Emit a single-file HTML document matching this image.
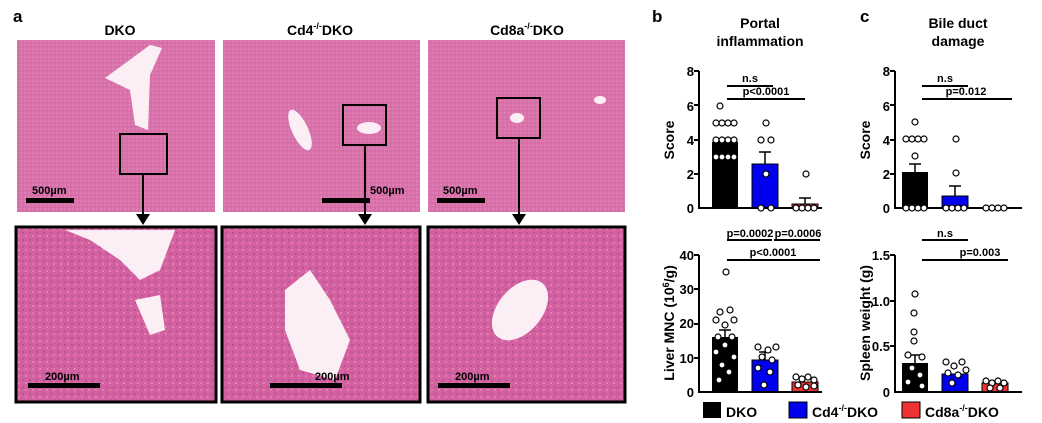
<!DOCTYPE html><html><head><style>body{margin:0;background:#fff}svg{display:block;font-family:"Liberation Sans",sans-serif;font-weight:bold}</style></head><body>
<svg width="1042" height="423" viewBox="0 0 1042 423">
<defs>
<pattern id="t1" width="4" height="4" patternUnits="userSpaceOnUse"><rect width="4" height="4" fill="#d972aa"/><circle cx="1" cy="1" r="0.5" fill="#eab5d2"/><circle cx="3" cy="3" r="0.5" fill="#c55a98"/></pattern>
<pattern id="t2" width="7" height="7" patternUnits="userSpaceOnUse"><rect width="7" height="7" fill="#d4609f"/><circle cx="2" cy="2" r="1" fill="#a2549a"/><circle cx="5" cy="5" r="0.8" fill="#e9a8cc"/></pattern>
</defs>
<text x="13" y="22" font-size="17">a</text>
<text x="120" y="35" font-size="14" text-anchor="middle">DKO</text>
<text x="320" y="35" font-size="14" text-anchor="middle">Cd4<tspan font-size="9" dy="-6">-/-</tspan><tspan dy="6">DKO</tspan></text>
<text x="527" y="35" font-size="14" text-anchor="middle">Cd8a<tspan font-size="9" dy="-6">-/-</tspan><tspan dy="6">DKO</tspan></text>
<rect x="17" y="40" width="198" height="172" fill="url(#t1)"/>
<rect x="223" y="40" width="197" height="172" fill="url(#t1)"/>
<rect x="428" y="40" width="197" height="172" fill="url(#t1)"/>
<path d="M105 78 L150 45 L162 48 L150 75 L148 130 L135 125 L130 90 Z" fill="#fbeef5"/>
<ellipse cx="300" cy="130" rx="8" ry="22" transform="rotate(-25 300 130)" fill="#fbeef5"/>
<ellipse cx="369" cy="128" rx="12" ry="6" fill="#fbeef5"/>
<ellipse cx="517" cy="118" rx="7" ry="5" fill="#fbeef5"/>
<ellipse cx="600" cy="100" rx="6" ry="4" fill="#fbeef5"/>
<g fill="none" stroke="#000" stroke-width="2">
<rect x="120" y="134" width="47" height="40"/><rect x="343" y="105" width="43" height="40"/><rect x="497" y="98" width="43" height="40"/>
</g>
<g stroke="#000" stroke-width="2"><line x1="143" y1="175" x2="143" y2="215"/><line x1="365" y1="146" x2="365" y2="215"/><line x1="519" y1="139" x2="519" y2="215"/></g>
<g fill="#000"><path d="M136 214h14l-7 11z"/><path d="M358 214h14l-7 11z"/><path d="M512 214h14l-7 11z"/></g>
<rect x="26" y="198" width="48" height="5" fill="#000"/><text x="32" y="194" font-size="11">500µm</text>
<rect x="322" y="198" width="48" height="5" fill="#000"/><text x="370" y="194" font-size="11">500µm</text>
<rect x="437" y="198" width="48" height="5" fill="#000"/><text x="443" y="194" font-size="11">500µm</text>
<rect x="16" y="227" width="200" height="175" fill="url(#t2)" stroke="#000" stroke-width="3"/>
<rect x="222" y="227" width="198" height="175" fill="url(#t2)" stroke="#000" stroke-width="3"/>
<rect x="428" y="227" width="197" height="175" fill="url(#t2)" stroke="#000" stroke-width="3"/>
<path d="M65 230 L175 230 L160 270 L140 280 L120 260 L90 240 Z" fill="#fbeef5"/>
<path d="M135 300 L150 335 L165 330 L160 295 Z" fill="#fbeef5"/>
<path d="M285 290 L310 270 L330 300 L350 340 L335 380 L300 370 L285 330 Z" fill="#fbeef5"/>
<ellipse cx="520" cy="310" rx="22" ry="35" transform="rotate(40 520 310)" fill="#fbeef5"/>
<rect x="28" y="383" width="72" height="5" fill="#000"/><text x="45" y="380" font-size="11">200µm</text>
<rect x="270" y="383" width="72" height="5" fill="#000"/><text x="315" y="380" font-size="11">200µm</text>
<rect x="438" y="383" width="72" height="5" fill="#000"/><text x="455" y="380" font-size="11">200µm</text>

<text x="652" y="22" font-size="17">b</text>
<text x="760" y="28" font-size="14" text-anchor="middle">Portal</text><text x="760" y="46" font-size="14" text-anchor="middle">inflammation</text>
<text x="860" y="22" font-size="17">c</text>
<text x="958" y="28" font-size="14" text-anchor="middle">Bile duct</text><text x="958" y="46" font-size="14" text-anchor="middle">damage</text>
<g font-size="13" text-anchor="end">
<text x="694" y="76">8</text><text x="694" y="111">6</text><text x="694" y="145">4</text><text x="694" y="179">2</text><text x="694" y="213">0</text>
<text x="890" y="76">8</text><text x="890" y="111">6</text><text x="890" y="145">4</text><text x="890" y="179">2</text><text x="890" y="213">0</text>
<text x="694" y="260">40</text><text x="694" y="294">30</text><text x="694" y="328">20</text><text x="694" y="363">10</text><text x="694" y="397">0</text>
<text x="890" y="260">1.5</text><text x="890" y="306">1.0</text><text x="890" y="351">0.5</text><text x="890" y="397">0</text>
</g>
<text transform="translate(674 140) rotate(-90)" font-size="14" text-anchor="middle">Score</text>
<text transform="translate(870 140) rotate(-90)" font-size="14" text-anchor="middle">Score</text>
<text transform="translate(674 323) rotate(-90)" font-size="14" text-anchor="middle">Liver MNC (10<tspan font-size="9" dy="-5">6</tspan><tspan dy="5">/g)</tspan></text>
<text transform="translate(870 323) rotate(-90)" font-size="14" text-anchor="middle">Spleen weight (g)</text>
<g>
<rect x="712" y="142" width="26" height="66" fill="#000"/><rect x="752" y="164" width="26" height="44" fill="#0000ee" stroke="#000"/><rect x="792" y="204" width="26" height="4" fill="#e33" stroke="#000"/>
<rect x="902" y="172" width="26" height="36" fill="#000"/><rect x="942" y="196" width="26" height="12" fill="#0000ee" stroke="#000"/>
<rect x="712" y="337" width="26" height="55" fill="#000"/><rect x="752" y="360" width="26" height="32" fill="#0000ee" stroke="#000"/><rect x="792" y="382" width="26" height="10" fill="#e33" stroke="#000"/>
<rect x="902" y="363" width="26" height="29" fill="#000"/><rect x="942" y="374" width="26" height="18" fill="#0000ee" stroke="#000"/><rect x="982" y="383" width="26" height="9" fill="#e33" stroke="#000"/>
</g>
<g stroke="#000" stroke-width="1.5" fill="none">
<path d="M765 164V152M759 152h12M805 204V198M799 198h12M955 196V186M949 186h12M915 172V164M909 164h12M725 337V330M719 330h12M765 360V352M759 352h12M915 363V355M909 355h12"/>
</g>
<g stroke="#000" stroke-width="2" fill="none">
<path d="M699 71V208H822M895 71V208H1022M699 255V392H822M895 255V392H1022"/>
<path d="M694 71h5M694 105h5M694 140h5M694 174h5M890 71h5M890 105h5M890 140h5M890 174h5M694 255h5M694 289h5M694 324h5M694 358h5M890 255h5M890 301h5M890 346h5"/>
<path d="M727 86H773M727 99H805M922 86H968M922 99H1012M727 240H772M774 240H820M727 260H820M922 240H968M922 260H1008"/>
</g>
<g font-size="11" text-anchor="middle">
<text x="750" y="82">n.s</text><text x="766" y="95">p&lt;0.0001</text><text x="945" y="82">n.s</text><text x="966" y="95">p=0.012</text>
<text x="750" y="237">p=0.0002</text><text x="798" y="237">p=0.0006</text><text x="773" y="256">p&lt;0.0001</text>
<text x="945" y="237">n.s</text><text x="980" y="256">p=0.003</text>
</g>
<g fill="#fff" stroke="#000" stroke-width="1.2">
<circle cx="720" cy="106" r="3"/><circle cx="716" cy="123" r="3"/><circle cx="722" cy="123" r="3"/><circle cx="728" cy="123" r="3"/><circle cx="734" cy="123" r="3"/>
<circle cx="716" cy="140" r="3"/><circle cx="722" cy="140" r="3"/><circle cx="728" cy="140" r="3"/><circle cx="734" cy="140" r="3"/>
<circle cx="716" cy="157" r="3"/><circle cx="722" cy="157" r="3"/><circle cx="728" cy="157" r="3"/><circle cx="734" cy="157" r="3"/>
<circle cx="766" cy="123" r="3"/><circle cx="761" cy="140" r="3"/><circle cx="771" cy="140" r="3"/><circle cx="766" cy="174" r="3"/><circle cx="761" cy="208" r="3"/><circle cx="771" cy="208" r="3"/>
<circle cx="806" cy="174" r="3"/><circle cx="796" cy="208" r="3"/><circle cx="802" cy="208" r="3"/><circle cx="808" cy="208" r="3"/><circle cx="814" cy="208" r="3"/>
<circle cx="915" cy="122" r="3"/><circle cx="906" cy="139" r="3"/><circle cx="912" cy="139" r="3"/><circle cx="918" cy="139" r="3"/><circle cx="924" cy="139" r="3"/><circle cx="915" cy="156" r="3"/>
<circle cx="906" cy="208" r="3"/><circle cx="912" cy="208" r="3"/><circle cx="918" cy="208" r="3"/><circle cx="924" cy="208" r="3"/>
<circle cx="956" cy="139" r="3"/><circle cx="956" cy="173" r="3"/><circle cx="946" cy="208" r="3"/><circle cx="952" cy="208" r="3"/><circle cx="958" cy="208" r="3"/><circle cx="964" cy="208" r="3"/>
<circle cx="986" cy="208" r="3"/><circle cx="992" cy="208" r="3"/><circle cx="998" cy="208" r="3"/><circle cx="1004" cy="208" r="3"/>
<circle cx="726" cy="272" r="3"/><circle cx="720" cy="312" r="3"/><circle cx="730" cy="310" r="3"/><circle cx="716" cy="320" r="3"/><circle cx="734" cy="320" r="3"/><circle cx="725" cy="325" r="3"/><circle cx="718" cy="337" r="3"/><circle cx="732" cy="337" r="3"/><circle cx="725" cy="345" r="3"/><circle cx="716" cy="352" r="3"/><circle cx="734" cy="357" r="3"/><circle cx="722" cy="365" r="3"/><circle cx="729" cy="372" r="3"/><circle cx="719" cy="380" r="3"/>
<circle cx="758" cy="347" r="3"/><circle cx="768" cy="350" r="3"/><circle cx="776" cy="347" r="3"/><circle cx="762" cy="357" r="3"/><circle cx="772" cy="360" r="3"/><circle cx="758" cy="368" r="3"/><circle cx="770" cy="372" r="3"/><circle cx="764" cy="385" r="3"/>
<circle cx="796" cy="377" r="3"/><circle cx="802" cy="379" r="3"/><circle cx="808" cy="377" r="3"/><circle cx="814" cy="380" r="3"/><circle cx="798" cy="385" r="3"/><circle cx="806" cy="387" r="3"/><circle cx="814" cy="386" r="3"/>
<circle cx="915" cy="294" r="3"/><circle cx="914" cy="313" r="3"/><circle cx="914" cy="332" r="3"/><circle cx="914" cy="341" r="3"/><circle cx="908" cy="355" r="3"/><circle cx="922" cy="357" r="3"/><circle cx="912" cy="368" r="3"/><circle cx="920" cy="375" r="3"/><circle cx="908" cy="382" r="3"/><circle cx="922" cy="386" r="3"/>
<circle cx="946" cy="362" r="3"/><circle cx="954" cy="366" r="3"/><circle cx="962" cy="362" r="3"/><circle cx="948" cy="373" r="3"/><circle cx="958" cy="375" r="3"/><circle cx="966" cy="370" r="3"/><circle cx="952" cy="383" r="3"/>
<circle cx="986" cy="381" r="3"/><circle cx="992" cy="383" r="3"/><circle cx="998" cy="381" r="3"/><circle cx="1004" cy="383" r="3"/><circle cx="990" cy="388" r="3"/><circle cx="1000" cy="388" r="3"/>
</g>
<rect x="703" y="402" width="18" height="16" fill="#000"/><text x="726" y="417" font-size="14">DKO</text>
<rect x="789" y="402" width="18" height="16" fill="#0000ee" stroke="#000"/><text x="812" y="417" font-size="14">Cd4<tspan font-size="9" dy="-6">-/-</tspan><tspan dy="6">DKO</tspan></text>
<rect x="902" y="402" width="18" height="16" fill="#e33" stroke="#000"/><text x="925" y="417" font-size="14">Cd8a<tspan font-size="9" dy="-6">-/-</tspan><tspan dy="6">DKO</tspan></text>
</svg></body></html>
